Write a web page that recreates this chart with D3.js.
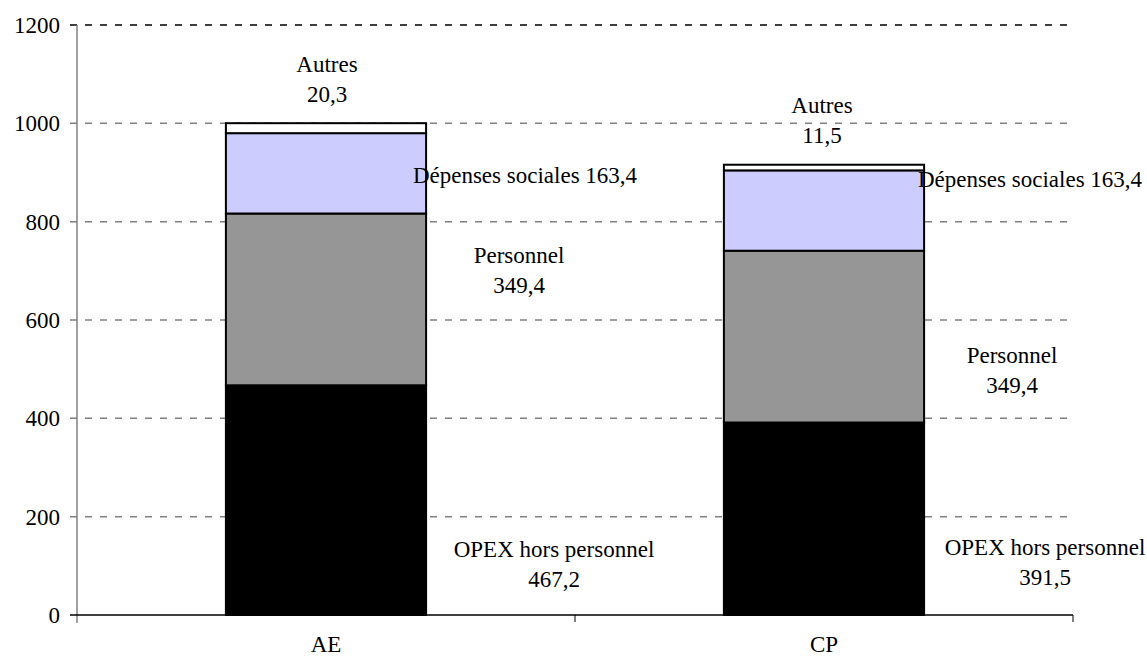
<!DOCTYPE html>
<html>
<head>
<meta charset="utf-8">
<script src="https://cdn.jsdelivr.net/npm/d3@7"></script>
<style>
  html, body { margin: 0; padding: 0; background: #fff; }
  svg { display: block; font-family: "Liberation Serif", "Times New Roman", serif; }
</style>
</head>
<body>
<svg id="chart" width="1147" height="658"></svg>
<script>
// Categories (x axis) and stacked series, bottom to top
const categories = ["AE", "CP"];
const seriesNames = ["OPEX hors personnel", "Personnel", "Dépenses sociales", "Autres"];
const opexValues = [467.2, 391.5];
const personnelValues = [349.4, 349.4];
const socialValues = [163.4, 163.4];
const autresValues = [20.3, 11.5];
const yTicks = [0, 200, 400, 600, 800, 1000, 1200];

// Series whose label sits on a single line
const labelInline = { "Dépenses sociales": true };

// Manual label placement: dx from the column centre, baseline of first line (px)
const labelLayout = {
  AE: {
    "Autres": { dx: 1, y: 72 },
    "Dépenses sociales": { dx: 199, y: 183 },
    "Personnel": { dx: 193, y: 263 },
    "OPEX hors personnel": { dx: 228, y: 557 }
  },
  CP: {
    "Autres": { dx: -2, y: 113 },
    "Dépenses sociales": { dx: 206, y: 187 },
    "Personnel": { dx: 188, y: 363 },
    "OPEX hors personnel": { dx: 221, y: 555 }
  }
};

const colors = {
  "OPEX hors personnel": "#000000",
  "Personnel": "#969696",
  "Dépenses sociales": "#ccccff",
  "Autres": "#ffffff"
};

const rows = categories.map((c, i) => ({
  category: c,
  "OPEX hors personnel": opexValues[i],
  "Personnel": personnelValues[i],
  "Dépenses sociales": socialValues[i],
  "Autres": autresValues[i]
}));

const fr = d3.formatLocale({ decimal: ",", thousands: " ", grouping: [3], currency: ["", " €"] });
const fmt = fr.format(".1f");

const svg = d3.select("#chart");
const plotLeft = 77, plotRight = 1073, plotTop = 25, plotBottom = 615;
const fontSize = 23;

const x = d3.scaleBand().domain(categories).range([plotLeft, plotRight]).paddingInner(0).paddingOuter(0);
const y = d3.scaleLinear().domain([0, 1200]).range([plotBottom, plotTop]);
const barWidth = x.bandwidth() * 0.402;

// Horizontal gridlines
svg.append("g")
  .selectAll("line")
  .data(yTicks.filter(t => t > 0))
  .join("line")
  .attr("x1", 70).attr("x2", 1068)
  .attr("y1", d => y(d)).attr("y2", d => y(d))
  .attr("stroke", d => d === 1200 ? "#000" : "#808080")
  .attr("stroke-width", 1.5)
  .attr("stroke-dasharray", "7,8");

// Y axis
const yAxis = svg.append("g").attr("transform", `translate(${plotLeft},0)`)
  .call(d3.axisLeft(y).tickValues(yTicks).tickSize(7).tickFormat(d3.format("d")));
yAxis.select(".domain").remove();
yAxis.selectAll(".tick line").attr("stroke", "none");
yAxis.selectAll(".tick text")
  .attr("x", -17)
  .attr("font-size", fontSize)
  .attr("font-family", "Liberation Serif, serif")
  .attr("fill", "#000");
svg.append("line")
  .attr("x1", plotLeft).attr("x2", plotLeft)
  .attr("y1", plotTop).attr("y2", plotBottom + 8)
  .attr("stroke", "#808080").attr("stroke-width", 1.5);

// Stacked bars
const stack = d3.stack().keys(seriesNames)(rows);
svg.append("g")
  .selectAll("g")
  .data(stack)
  .join("g")
  .attr("fill", d => colors[d.key])
  .selectAll("rect")
  .data(d => d.map(p => ({ key: d.key, p })))
  .join("rect")
  .attr("x", d => x(d.p.data.category) + (x.bandwidth() - barWidth) / 2)
  .attr("width", barWidth)
  .attr("y", d => y(d.p[1]))
  .attr("height", d => y(d.p[0]) - y(d.p[1]))
  .attr("stroke", "#000")
  .attr("stroke-width", 2);

// X axis
svg.append("line")
  .attr("x1", 70).attr("x2", plotRight)
  .attr("y1", plotBottom).attr("y2", plotBottom)
  .attr("stroke", "#000").attr("stroke-width", 1.5);
svg.append("g")
  .selectAll("line")
  .data(categories.slice(1).map(c => x(c)).concat([plotRight]))
  .join("line")
  .attr("x1", d => d).attr("x2", d => d)
  .attr("y1", plotBottom).attr("y2", plotBottom + 7)
  .attr("stroke", "#000").attr("stroke-width", 1);
svg.append("g")
  .selectAll("text")
  .data(categories)
  .join("text")
  .attr("x", d => x(d) + x.bandwidth() / 2)
  .attr("y", 652)
  .attr("text-anchor", "middle")
  .attr("font-size", fontSize)
  .text(d => d);

// Segment labels
const labels = [];
rows.forEach(r => {
  seriesNames.forEach(s => {
    const lay = labelLayout[r.category][s];
    const cx = x(r.category) + x.bandwidth() / 2 + lay.dx;
    const lines = labelInline[s] ? [s + " " + fmt(r[s])] : [s, fmt(r[s])];
    labels.push({ cx, y: lay.y, lines });
  });
});
const lab = svg.append("g")
  .selectAll("text")
  .data(labels)
  .join("text")
  .attr("text-anchor", "middle")
  .attr("font-size", fontSize)
  .attr("fill", "#000");
lab.selectAll("tspan")
  .data(d => d.lines.map((t, i) => ({ t, i, d })))
  .join("tspan")
  .attr("x", d => d.d.cx)
  .attr("y", d => d.d.y + d.i * 30)
  .text(d => d.t);
</script>
</body>
</html>
